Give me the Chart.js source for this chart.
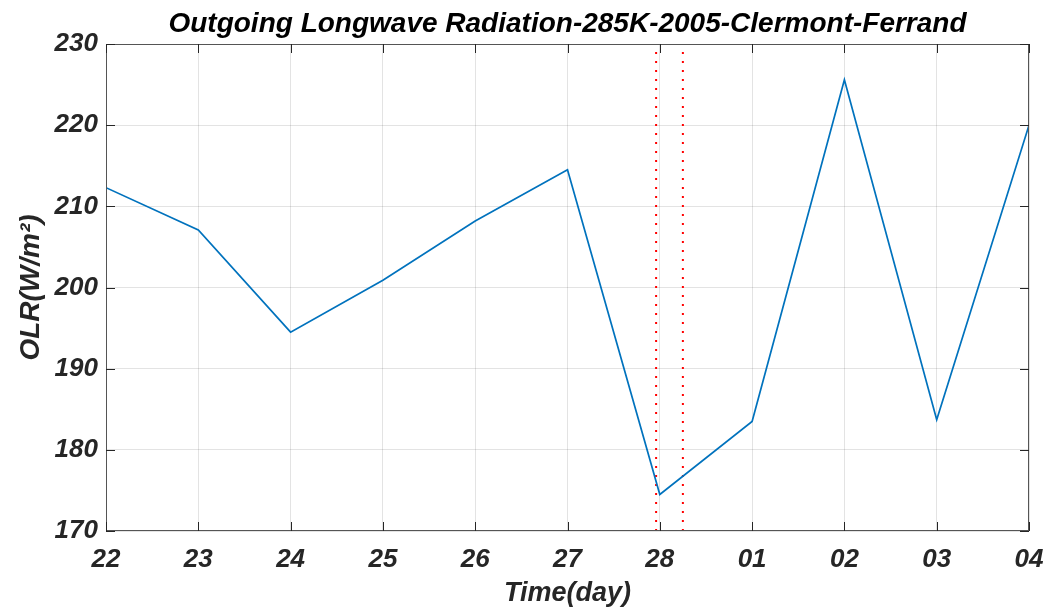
<!DOCTYPE html>
<html>
<head>
<meta charset="utf-8">
<script src="https://cdn.jsdelivr.net/npm/chart.js@4.4.1/dist/chart.umd.min.js"></script>
<style>
  html, body { margin: 0; padding: 0; background: #fff; }
  #wrap { width: 1050px; height: 610px; }
</style>
</head>
<body>
<div id="wrap"><canvas id="olrChart" width="1050" height="610"></canvas></div>
<script>
// day labels along the x axis (Feb 22 -> Mar 04)
const dayLabels = ['22', '23', '24', '25', '26', '27', '28', '01', '02', '03', '04'];
// OLR values, one per day
const olrValues = [212.3, 207.1, 194.5, 200.9, 208.2, 214.5, 174.5, 183.5, 225.6, 183.7, 220.0];
// red dotted markers (in day index units)
const markerDays = [5.96, 6.25];
const yRange = [170, 230];
const chartTitle = 'Outgoing Longwave Radiation-285K-2005-Clermont-Ferrand';

const fontFam = '"Liberation Sans", Arial, Helvetica, sans-serif';
const ink = '#262626';

const lineData = olrValues.map((v, i) => ({ x: i, y: v }));

const markerSets = markerDays.map(d => ({
  data: [{ x: d, y: yRange[0] }, { x: d, y: yRange[1] }],
  borderColor: '#ff0000',
  borderWidth: 2,
  borderDash: [2, 7],
  pointRadius: 0,
  fill: false
}));

// box on top/right plus inward ticks, MATLAB style; title centred over the axes
const boxPlugin = {
  id: 'boxPlugin',
  afterDraw(chart) {
    const { ctx, chartArea: a, scales } = chart;
    ctx.save();
    ctx.strokeStyle = '#555';
    ctx.lineWidth = 1;
    ctx.strokeRect(a.left + 0.5, a.top + 0.5, a.right - a.left - 1, a.bottom - a.top - 1);
    ctx.strokeStyle = ink;
    ctx.beginPath();
    dayLabels.forEach((_, i) => {
      const px = Math.round(scales.x.getPixelForValue(i)) + 0.5;
      ctx.moveTo(px, a.bottom); ctx.lineTo(px, a.bottom - 9);
      ctx.moveTo(px, a.top); ctx.lineTo(px, a.top + 9);
    });
    for (let v = yRange[0]; v <= yRange[1]; v += 10) {
      const py = Math.round(scales.y.getPixelForValue(v)) + 0.5;
      ctx.moveTo(a.left, py); ctx.lineTo(a.left + 9, py);
      ctx.moveTo(a.right, py); ctx.lineTo(a.right - 9, py);
    }
    ctx.stroke();

    ctx.fillStyle = '#000';
    ctx.font = 'italic bold 28px ' + fontFam;
    ctx.textAlign = 'center';
    ctx.textBaseline = 'alphabetic';
    ctx.fillText(chartTitle, (a.left + a.right) / 2, 32);
    ctx.restore();
  }
};

const ctx = document.getElementById('olrChart').getContext('2d');

new Chart(ctx, {
  type: 'line',
  data: {
    datasets: [{
      data: lineData,
      borderColor: '#0072BD',
      borderWidth: 1.7,
      pointRadius: 0,
      tension: 0,
      fill: false
    }, ...markerSets]
  },
  options: {
    responsive: false,
    animation: false,
    layout: { padding: { left: 0, right: 21, top: 44, bottom: 0 } },
    plugins: {
      legend: { display: false },
      tooltip: { enabled: false },
      title: { display: false }
    },
    scales: {
      x: {
        type: 'linear',
        min: 0,
        max: 10,
        afterFit: s => { s.height = 79; s.paddingLeft = 0; s.paddingRight = 0; },
        ticks: {
          stepSize: 1,
          autoSkip: false,
          maxRotation: 0,
          padding: 13,
          color: ink,
          font: { family: fontFam, size: 26, weight: 'bold', style: 'italic' },
          callback: v => dayLabels[v]
        },
        grid: { color: 'rgba(38,38,38,0.13)', drawTicks: false },
        border: { display: false },
        title: {
          display: true,
          text: 'Time(day)',
          color: ink,
          font: { family: fontFam, size: 27, weight: 'bold', style: 'italic' },
          padding: { top: 0, bottom: 0 }
        }
      },
      y: {
        min: yRange[0],
        max: yRange[1],
        afterFit: s => { s.width = 106; s.paddingTop = 0; s.paddingBottom = 0; },
        ticks: {
          stepSize: 10,
          padding: 8,
          color: ink,
          font: { family: fontFam, size: 26, weight: 'bold', style: 'italic' }
        },
        grid: { color: 'rgba(38,38,38,0.13)', drawTicks: false },
        border: { display: false },
        title: {
          display: true,
          text: 'OLR(W/m²)',
          color: ink,
          font: { family: fontFam, size: 28, weight: 'bold', style: 'italic' },
          padding: { top: 14, bottom: 0 }
        }
      }
    }
  },
  plugins: [boxPlugin]
});
</script>
</body>
</html>
